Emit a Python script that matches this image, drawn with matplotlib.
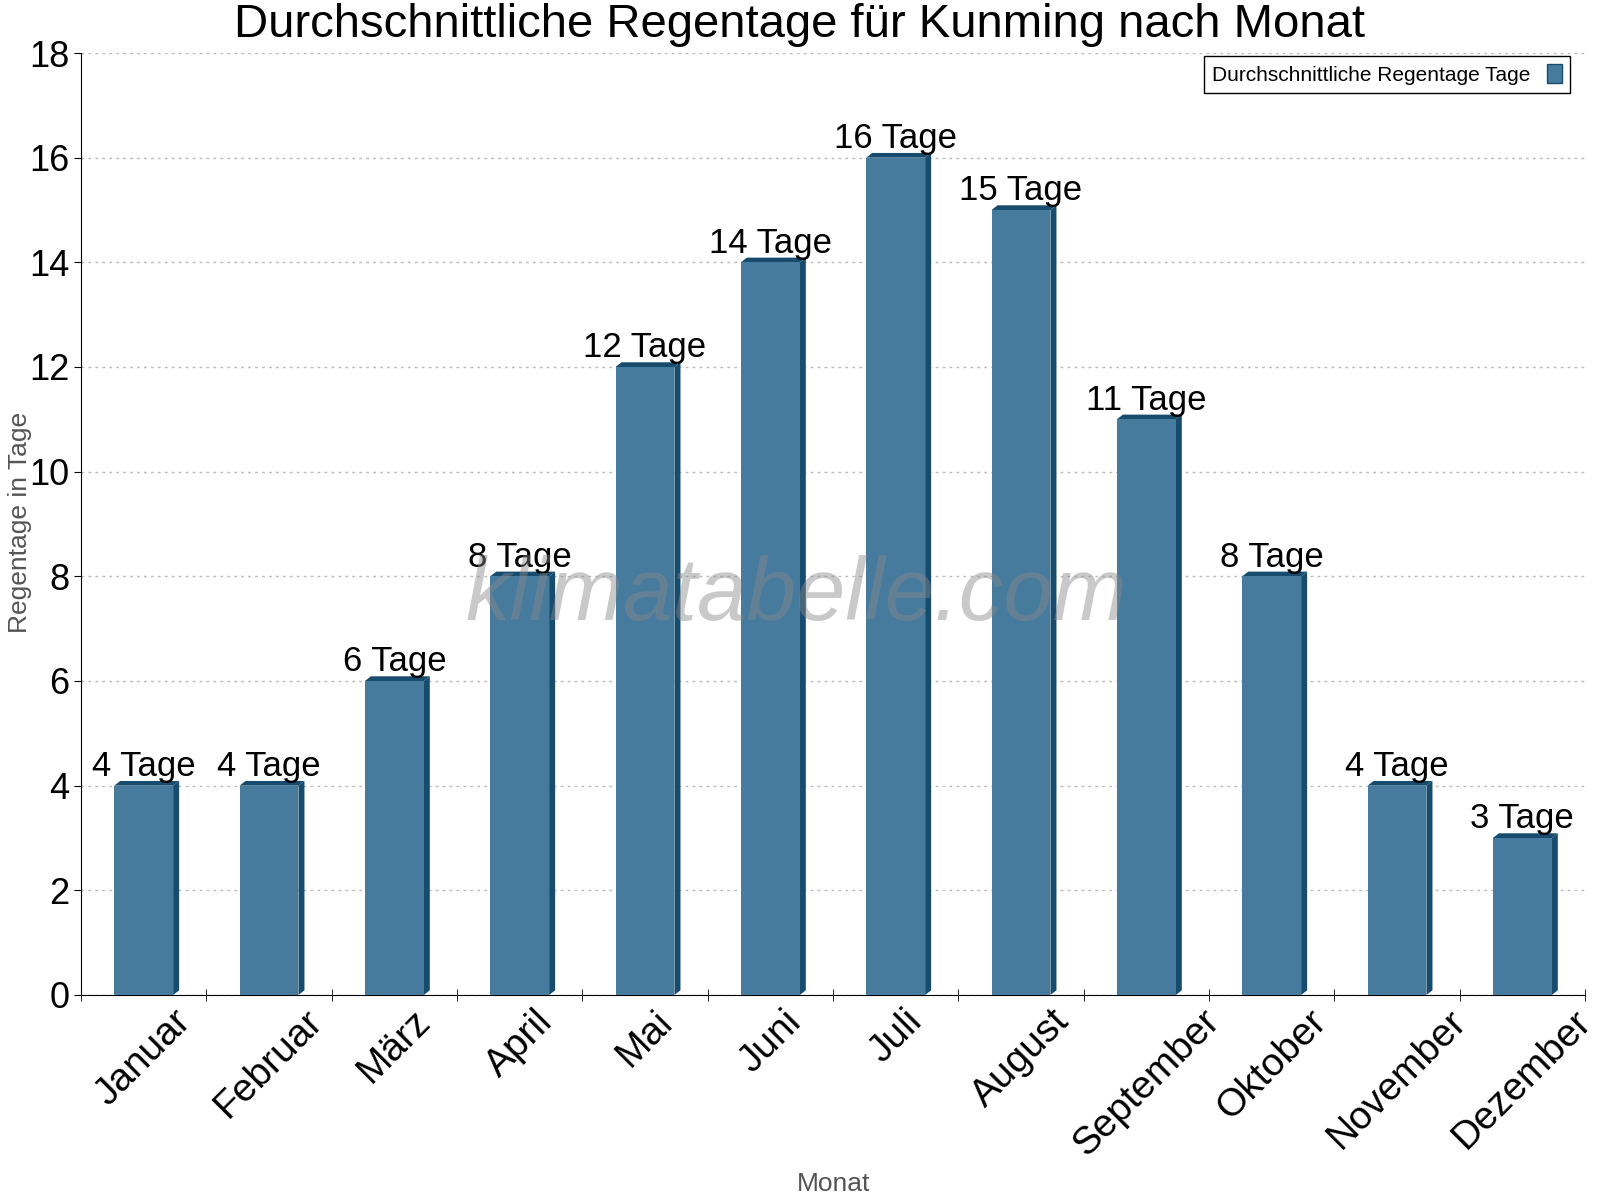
import numpy as np
import matplotlib.pyplot as plt
from matplotlib.patches import Polygon, Patch

plt.rcParams['font.family'] = ['Liberation Sans', 'DejaVu Sans']

monate = ['Januar', 'Februar', 'März', 'April', 'Mai', 'Juni', 'Juli',
          'August', 'September', 'Oktober', 'November', 'Dezember']
regentage = [4, 4, 6, 8, 12, 14, 16, 15, 11, 8, 4, 3]

front = '#467b9e'
dark = '#174c6e'

fig = plt.figure(figsize=(16, 12), dpi=100)
ax = fig.add_axes([81/1600, 1 - 995/1200, (1585-81)/1600, (995-53)/1200])

x = np.arange(len(monate))
w = 0.47
dx, dy = 0.048, 0.09

for xi, v in zip(x, regentage):
    l, r = xi - w/2, xi + w/2
    # side and top faces
    ax.add_patch(Polygon([(r, 0), (r + dx, dy), (r + dx, v + dy), (r, v)],
                         closed=True, fc=dark, ec='none', zorder=2))
    ax.add_patch(Polygon([(l, v), (l + dx, v + dy), (r + dx, v + dy), (r, v)],
                         closed=True, fc=dark, ec='none', zorder=2))
ax.bar(x, regentage, width=w, color=front, zorder=3)

for xi, v in zip(x, regentage):
    ax.text(xi, v + 0.05, f'{v} Tage', ha='center', va='bottom',
            fontsize=25, zorder=5)

ax.set_xlim(-0.5, len(monate) - 0.5)
ax.set_ylim(0, 18)
ax.set_yticks(range(0, 19, 2))
ax.set_xticks(x)
ax.set_xticklabels(monate, rotation=45, ha='center', va='top', fontsize=28)
ax.set_xticks(np.arange(-0.5, len(monate), 1), minor=True)
ax.tick_params(axis='x', which='major', length=0, pad=6)
ax.tick_params(axis='x', which='minor', length=8, direction='inout')
ax.tick_params(axis='y', labelsize=26, length=5)
ax.grid(axis='y', linestyle=(0, (2, 3)), color='#bbbbbb', linewidth=1)
ax.set_axisbelow(True)
for s in ['top', 'right']:
    ax.spines[s].set_visible(False)

fig.text(0.5, 1 - 25/1200, 'Durchschnittliche Regentage für Kunming nach Monat',
         ha='center', va='center', fontsize=34)
fig.text(20/1600, 1 - 522/1200, 'Regentage in Tage', rotation=90,
         ha='center', va='center', fontsize=19, color='#555555')
fig.text(834/1600, 1 - 1184/1200, 'Monat', ha='center', va='center',
         fontsize=19, color='#555555')
fig.text(796/1600, 1 - 597/1200, 'klimatabelle.com', ha='center', va='center',
         fontsize=64, color='#888888', alpha=0.45, style='italic', zorder=10)

leg = ax.legend(handles=[Patch(fc=front, ec=dark, label='Durchschnittliche Regentage Tage')],
                loc='upper right', bbox_to_anchor=(0.997, 1.008), fontsize=15,
                markerfirst=False, fancybox=False, framealpha=1,
                handlelength=0.7, handleheight=1.0, borderpad=0.4)
leg.get_frame().set_edgecolor('black')

fig.savefig('out.png', dpi=100)
